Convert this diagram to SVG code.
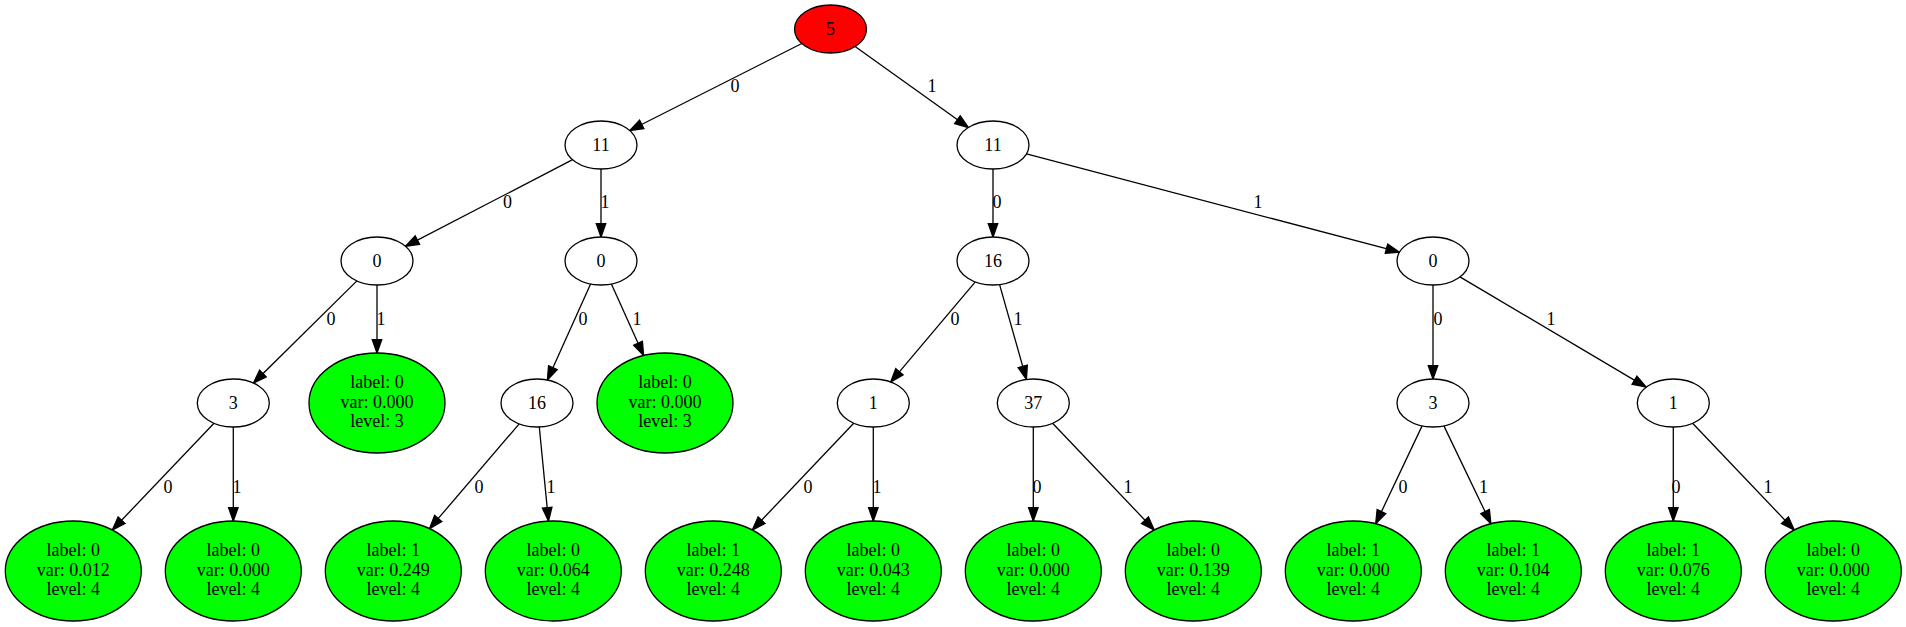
<svg xmlns="http://www.w3.org/2000/svg" width="1906" height="627" viewBox="0 0 1906 627">
<style>
  .nd ellipse { stroke: #000; stroke-width: 1.3; }
  .inner ellipse { fill: #fff; }
  .root ellipse { fill: #ff0000; }
  .leaf ellipse { fill: #00ff00; }
  text { font-family: "Liberation Serif", "Times New Roman", serif; font-size: 18px; fill: #000; text-anchor: middle; }
  #edges line { stroke: #000; stroke-width: 1.3; marker-end: url(#arrow); }
</style>
<defs>
  <marker id="arrow" markerUnits="userSpaceOnUse" viewBox="-1 -1 16 12" refX="13.5" refY="4.8" markerWidth="16" markerHeight="12" orient="auto">
    <path d="M0,0 L13.5,4.8 L0,9.6 Z" fill="#000" stroke="#000" stroke-width="1.3"/>
  </marker>
</defs>
<rect width="1906" height="627" fill="#fff"/>
<g id="edges">
  <line x1="801.8" y1="43.5" x2="629.7" y2="130.5"/>
  <line x1="855.1" y1="46.5" x2="968.4" y2="127.5"/>
  <line x1="572.6" y1="159.7" x2="405.4" y2="246.3"/>
  <line x1="601" y1="169" x2="601" y2="237"/>
  <line x1="993" y1="169" x2="993" y2="237"/>
  <line x1="1026.5" y1="153.8" x2="1399.5" y2="252.2"/>
  <line x1="356.9" y1="280.9" x2="253.4" y2="383.1"/>
  <line x1="377" y1="285" x2="377" y2="353"/>
  <line x1="590.6" y1="284" x2="547.4" y2="380"/>
  <line x1="611.4" y1="284" x2="643.6" y2="355.5"/>
  <line x1="975.3" y1="281.9" x2="890.7" y2="382.1"/>
  <line x1="999.6" y1="284.6" x2="1026.4" y2="379.4"/>
  <line x1="1433" y1="285" x2="1433" y2="379"/>
  <line x1="1459.9" y1="276.9" x2="1646.1" y2="387.1"/>
  <line x1="214" y1="423.3" x2="112.3" y2="530"/>
  <line x1="233.3" y1="427" x2="233.3" y2="521"/>
  <line x1="519.2" y1="423.8" x2="429.5" y2="528.7"/>
  <line x1="539.3" y1="427" x2="548.5" y2="521.1"/>
  <line x1="853.7" y1="423.3" x2="752.3" y2="530"/>
  <line x1="873.3" y1="427" x2="873.3" y2="521"/>
  <line x1="1033.3" y1="427" x2="1033.3" y2="521"/>
  <line x1="1052.6" y1="423.3" x2="1154.3" y2="530"/>
  <line x1="1422.1" y1="425.9" x2="1375.7" y2="523.8"/>
  <line x1="1443.9" y1="425.9" x2="1490.9" y2="523.8"/>
  <line x1="1673.3" y1="427" x2="1673.3" y2="521"/>
  <line x1="1692.6" y1="423.3" x2="1794.3" y2="530"/>
  <g id="edge-labels">
    <text x="735" y="92">0</text>
    <text x="932" y="92">1</text>
    <text x="507.5" y="208">0</text>
    <text x="605" y="208">1</text>
    <text x="997" y="208">0</text>
    <text x="1258" y="208">1</text>
    <text x="331" y="325">0</text>
    <text x="381" y="325">1</text>
    <text x="583" y="325">0</text>
    <text x="637" y="325">1</text>
    <text x="955" y="325">0</text>
    <text x="1018" y="325">1</text>
    <text x="1438" y="325">0</text>
    <text x="1551" y="325">1</text>
    <text x="168" y="493">0</text>
    <text x="237" y="493">1</text>
    <text x="479" y="493">0</text>
    <text x="551" y="493">1</text>
    <text x="808" y="493">0</text>
    <text x="877" y="493">1</text>
    <text x="1037" y="493">0</text>
    <text x="1128" y="493">1</text>
    <text x="1403" y="493">0</text>
    <text x="1483.5" y="493">1</text>
    <text x="1676" y="493">0</text>
    <text x="1768" y="493">1</text>
  </g>
</g>
<g id="n0" class="nd root"><ellipse cx="830.5" cy="29" rx="36" ry="24"/><text x="830.5" y="34.5">5</text></g>
<g id="n1" class="nd inner"><ellipse cx="601" cy="145" rx="36" ry="24"/><text x="601" y="150.5">11</text></g>
<g id="n2" class="nd inner"><ellipse cx="993" cy="145" rx="36" ry="24"/><text x="993" y="150.5">11</text></g>
<g id="n3" class="nd inner"><ellipse cx="377" cy="261" rx="36" ry="24"/><text x="377" y="266.5">0</text></g>
<g id="n4" class="nd inner"><ellipse cx="601" cy="261" rx="36" ry="24"/><text x="601" y="266.5">0</text></g>
<g id="n5" class="nd inner"><ellipse cx="993" cy="261" rx="36" ry="24"/><text x="993" y="266.5">16</text></g>
<g id="n6" class="nd inner"><ellipse cx="1433" cy="261" rx="36" ry="24"/><text x="1433" y="266.5">0</text></g>
<g id="n7" class="nd inner"><ellipse cx="233.3" cy="403" rx="36" ry="24"/><text x="233.3" y="408.5">3</text></g>
<g id="n8" class="nd leaf"><ellipse cx="377" cy="403" rx="68" ry="50"/><text x="377" y="388.4">label: 0</text><text x="377" y="407.8">var: 0.000</text><text x="377" y="427.2">level: 3</text></g>
<g id="n9" class="nd inner"><ellipse cx="537" cy="403" rx="36" ry="24"/><text x="537" y="408.5">16</text></g>
<g id="n10" class="nd leaf"><ellipse cx="665" cy="403" rx="68" ry="50"/><text x="665" y="388.4">label: 0</text><text x="665" y="407.8">var: 0.000</text><text x="665" y="427.2">level: 3</text></g>
<g id="n11" class="nd inner"><ellipse cx="873.3" cy="403" rx="36" ry="24"/><text x="873.3" y="408.5">1</text></g>
<g id="n12" class="nd inner"><ellipse cx="1033.3" cy="403" rx="36" ry="24"/><text x="1033.3" y="408.5">37</text></g>
<g id="n13" class="nd inner"><ellipse cx="1433" cy="403" rx="36" ry="24"/><text x="1433" y="408.5">3</text></g>
<g id="n14" class="nd inner"><ellipse cx="1673.3" cy="403" rx="36" ry="24"/><text x="1673.3" y="408.5">1</text></g>
<g id="n15" class="nd leaf"><ellipse cx="73.3" cy="571" rx="68" ry="50"/><text x="73.3" y="556.4">label: 0</text><text x="73.3" y="575.8">var: 0.012</text><text x="73.3" y="595.2">level: 4</text></g>
<g id="n16" class="nd leaf"><ellipse cx="233.3" cy="571" rx="68" ry="50"/><text x="233.3" y="556.4">label: 0</text><text x="233.3" y="575.8">var: 0.000</text><text x="233.3" y="595.2">level: 4</text></g>
<g id="n17" class="nd leaf"><ellipse cx="393.3" cy="571" rx="68" ry="50"/><text x="393.3" y="556.4">label: 1</text><text x="393.3" y="575.8">var: 0.249</text><text x="393.3" y="595.2">level: 4</text></g>
<g id="n18" class="nd leaf"><ellipse cx="553.3" cy="571" rx="68" ry="50"/><text x="553.3" y="556.4">label: 0</text><text x="553.3" y="575.8">var: 0.064</text><text x="553.3" y="595.2">level: 4</text></g>
<g id="n19" class="nd leaf"><ellipse cx="713.3" cy="571" rx="68" ry="50"/><text x="713.3" y="556.4">label: 1</text><text x="713.3" y="575.8">var: 0.248</text><text x="713.3" y="595.2">level: 4</text></g>
<g id="n20" class="nd leaf"><ellipse cx="873.3" cy="571" rx="68" ry="50"/><text x="873.3" y="556.4">label: 0</text><text x="873.3" y="575.8">var: 0.043</text><text x="873.3" y="595.2">level: 4</text></g>
<g id="n21" class="nd leaf"><ellipse cx="1033.3" cy="571" rx="68" ry="50"/><text x="1033.3" y="556.4">label: 0</text><text x="1033.3" y="575.8">var: 0.000</text><text x="1033.3" y="595.2">level: 4</text></g>
<g id="n22" class="nd leaf"><ellipse cx="1193.3" cy="571" rx="68" ry="50"/><text x="1193.3" y="556.4">label: 0</text><text x="1193.3" y="575.8">var: 0.139</text><text x="1193.3" y="595.2">level: 4</text></g>
<g id="n23" class="nd leaf"><ellipse cx="1353.3" cy="571" rx="68" ry="50"/><text x="1353.3" y="556.4">label: 1</text><text x="1353.3" y="575.8">var: 0.000</text><text x="1353.3" y="595.2">level: 4</text></g>
<g id="n24" class="nd leaf"><ellipse cx="1513.3" cy="571" rx="68" ry="50"/><text x="1513.3" y="556.4">label: 1</text><text x="1513.3" y="575.8">var: 0.104</text><text x="1513.3" y="595.2">level: 4</text></g>
<g id="n25" class="nd leaf"><ellipse cx="1673.3" cy="571" rx="68" ry="50"/><text x="1673.3" y="556.4">label: 1</text><text x="1673.3" y="575.8">var: 0.076</text><text x="1673.3" y="595.2">level: 4</text></g>
<g id="n26" class="nd leaf"><ellipse cx="1833.3" cy="571" rx="68" ry="50"/><text x="1833.3" y="556.4">label: 0</text><text x="1833.3" y="575.8">var: 0.000</text><text x="1833.3" y="595.2">level: 4</text></g>
</svg>
